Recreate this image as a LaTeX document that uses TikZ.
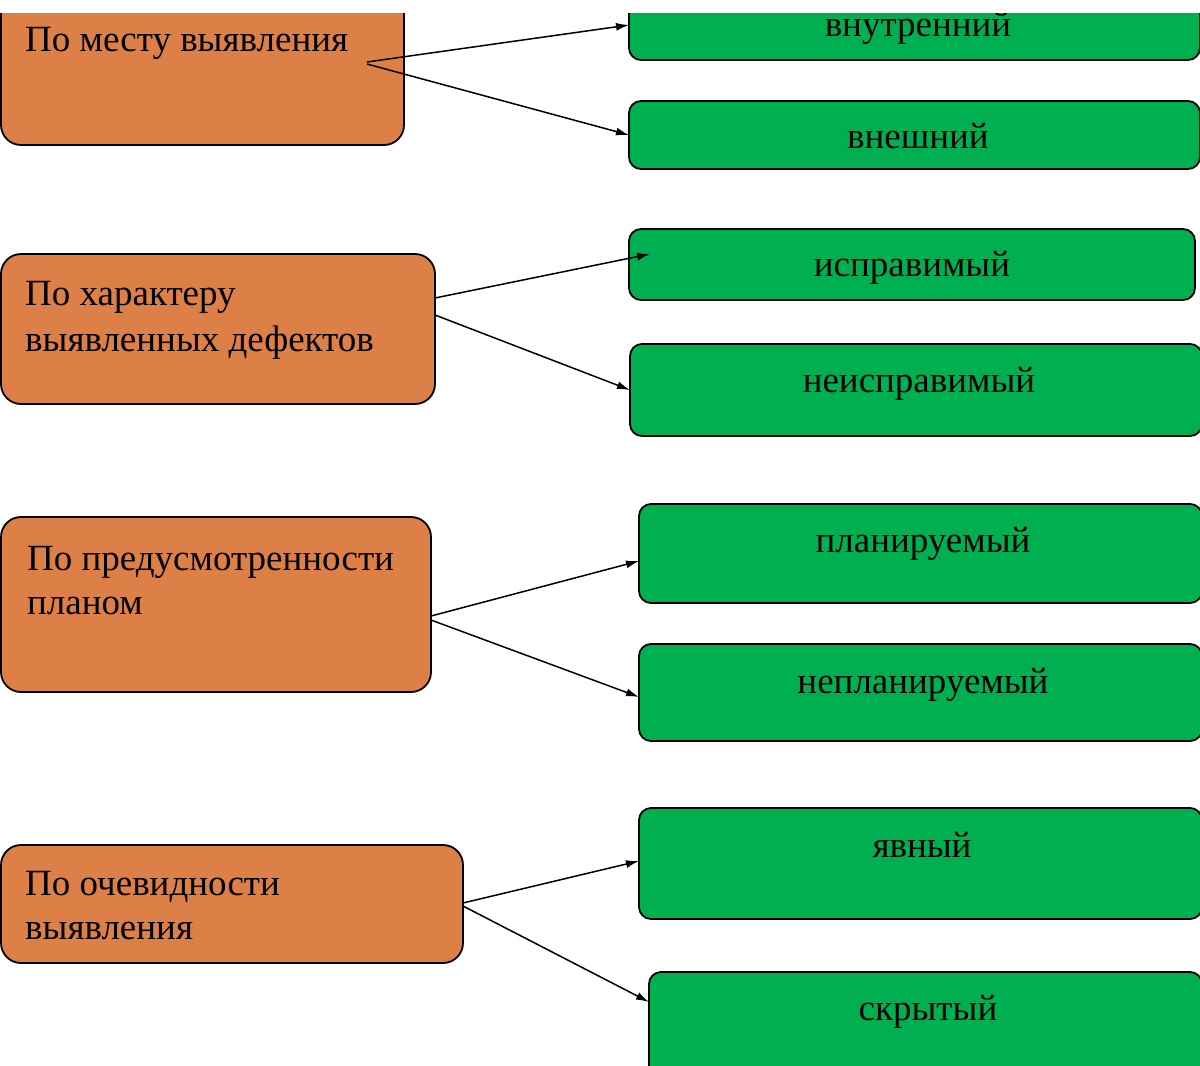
\documentclass[tikz,border=0pt]{standalone}
\usepackage{fontspec}
\setmainfont{Liberation Serif}
\usetikzlibrary{arrows.meta,calc}
\definecolor{orng}{RGB}{221,128,72}
\definecolor{grn}{RGB}{0,176,80}
\begin{document}
\begin{tikzpicture}[x=1pt,y=-1pt,
  obox/.style={draw=black, line width=1.8pt, fill=orng, rounded corners=20pt, inner sep=0pt, outer sep=0pt, anchor=north west},
  gbox/.style={draw=black, line width=1.8pt, fill=grn, rounded corners=12pt, inner sep=0pt, outer sep=0pt, anchor=north west},
  otext/.style={anchor=base west, font=\fontsize{37}{45}\selectfont, inner sep=0pt},
  gtext/.style={anchor=base, font=\fontsize{37}{45}\selectfont, inner sep=0pt},
  arr/.style={line width=1.5pt, -{Latex[length=13pt,width=8pt]}}]
\useasboundingbox (0,0) rectangle (1200,1066);
\fill[white] (0,0) rectangle (1200,1066);
\begin{scope}
\clip (0,13) rectangle (1200,1066);
% orange boxes
\node[obox, minimum width=403pt, minimum height=155pt] (o1) at (1,-10) {};
\node[obox, minimum width=434pt, minimum height=150pt] (o2) at (1,254) {};
\node[obox, minimum width=430pt, minimum height=175pt] (o3) at (1,517) {};
\node[obox, minimum width=462pt, minimum height=118pt] (o4) at (1,845) {};
% green boxes
\node[gbox, minimum width=571pt, minimum height=80pt] (g1) at (629,-20) {};
\node[gbox, minimum width=571pt, minimum height=68pt] (g2) at (629,101) {};
\node[gbox, minimum width=566pt, minimum height=71pt] (g3) at (629,229) {};
\node[gbox, minimum width=572pt, minimum height=92pt] (g4) at (630,344) {};
\node[gbox, minimum width=563pt, minimum height=99pt] (g5) at (639,504) {};
\node[gbox, minimum width=563pt, minimum height=97pt] (g6) at (639,644) {};
\node[gbox, minimum width=563pt, minimum height=111pt] (g7) at (639,808) {};
\node[gbox, minimum width=553pt, minimum height=108pt] (g8) at (649,972) {};
% orange texts
\node[otext] (t1) at (25,51) {По месту выявления};
\node[otext] (t2a) at (25,305) {По характеру};
\node[otext] (t2b) at (25,351) {выявленных дефектов};
\node[otext] (t3a) at (27,570) {По предусмотренности};
\node[otext] (t3b) at (27,614) {планом};
\node[otext] (t4a) at (25,895) {По очевидности};
\node[otext] (t4b) at (25,939) {выявления};
% green texts
\node[gtext] (u1) at (918,36) {внутренний};
\node[gtext] (u2) at (918,148) {внешний};
\node[gtext] (u3) at (912,276) {исправимый};
\node[gtext] (u4) at (919,392) {неисправимый};
\node[gtext] (u5) at (923,552) {планируемый};
\node[gtext] (u6) at (923,693) {непланируемый};
\node[gtext] (u7) at (922,857) {явный};
\node[gtext] (u8) at (928,1020) {скрытый};
% arrow starts
\coordinate (s1a) at (367,62);
\coordinate (s1b) at (367,64);
\coordinate (s2a) at (435,298);
\coordinate (s2b) at (435,315);
\coordinate (s3a) at (431,616);
\coordinate (s3b) at (431,620);
\coordinate (s4a) at (463,903);
\coordinate (s4b) at (463,906);
\draw[arr] (s1a) -- ($(g1.south west)+(0,-35)$);
\draw[arr] (s1b) -- (g2.west);
\draw[arr] (s2a) -- ($(g3.north west)+(21,25)$);
\draw[arr] (s2b) -- (g4.west);
\draw[arr] (s3a) -- ($(g5.north west)+(0,57)$);
\draw[arr] (s3b) -- ($(g6.north west)+(0,53)$);
\draw[arr] (s4a) -- ($(g7.north west)+(0,53)$);
\draw[arr] (s4b) -- ($(g8.north west)+(0,30)$);
\end{scope}
\end{tikzpicture}
\end{document}
